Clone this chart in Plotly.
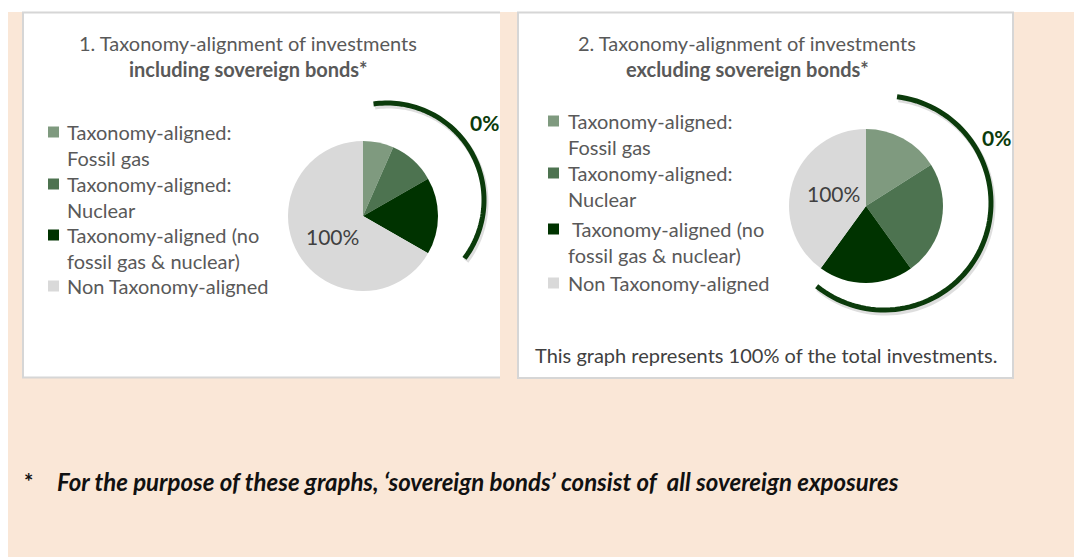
import math
import plotly.graph_objects as go

# Canvas size in pixels
W, H = 1074, 557

# ---- data ----
categories = [
    "Taxonomy-aligned: Fossil gas",
    "Taxonomy-aligned: Nuclear",
    "Taxonomy-aligned (no fossil gas & nuclear)",
    "Non Taxonomy-aligned",
]
legend_lines = [
    ["Taxonomy-aligned:", "Fossil gas"],
    ["Taxonomy-aligned:", "Nuclear"],
    ["Taxonomy-aligned (no", "fossil gas & nuclear)"],
    ["Non Taxonomy-aligned"],
]
slice_colors = ["#7F9A7F", "#4D7350", "#003300", "#D9D9D9"]
incl_sovereign = [6.6, 10.1, 16.6, 66.7]
excl_sovereign = [16.0, 24.1, 19.9, 40.0]
aligned_label = "0%"
non_aligned_label = "100%"
titles = [
    ("1. Taxonomy-alignment of investments", "including sovereign bonds*"),
    ("2. Taxonomy-alignment of investments", "excluding sovereign bonds*"),
]
panel2_note = "This graph represents 100% of the total investments."
footnote = "For the purpose of these graphs, \u2018sovereign bonds\u2019 consist of  all sovereign exposures"

FONT = "Lato"
TXT = "#595959"
ARC = "#0B3B0B"
PEACH = "#FAE7D7"


def px(x):
    return x / W


def py(y):
    return 1 - y / H


fig = go.Figure()
shapes = []
annotations = []

# background strips and panels
shapes.append(dict(type="rect", xref="paper", yref="paper", x0=0, x1=1, y0=py(12), y1=1,
                   fillcolor="white", line_width=0, layer="below"))
shapes.append(dict(type="rect", xref="paper", yref="paper", x0=0, x1=px(8), y0=0, y1=1,
                   fillcolor="white", line_width=0, layer="below"))
# panel 1 (open on the right side)
shapes.append(dict(type="rect", xref="paper", yref="paper", x0=px(22), x1=px(500), y0=py(378), y1=py(12),
                   fillcolor="white", line_width=0, layer="below"))
for (x0, y0, x1, y1) in [(23, 12, 23, 378), (22, 12.5, 500, 12.5), (22, 377.5, 500, 377.5)]:
    shapes.append(dict(type="line", xref="paper", yref="paper", x0=px(x0), y0=py(y0), x1=px(x1), y1=py(y1),
                       line=dict(color="#D6D6D6", width=2), layer="below"))
# panel 2
shapes.append(dict(type="rect", xref="paper", yref="paper", x0=px(518), x1=px(1013), y0=py(378), y1=py(12.5),
                   fillcolor="white", line=dict(color="#D6D6D6", width=2), layer="below"))

# pies
pie_geo = [((363, 216), 75, incl_sovereign), ((866, 206), 77, excl_sovereign)]
for (cx, cy), r, vals in pie_geo:
    fig.add_trace(go.Pie(
        labels=categories, values=vals, sort=False, direction="clockwise", rotation=0,
        marker=dict(colors=slice_colors, line=dict(width=0)),
        textinfo="none", hoverinfo="label+percent", showlegend=False,
        domain=dict(x=[px(cx - r), px(cx + r)], y=[py(cy + r), py(cy - r)]),
    ))


def arc_path(cx, cy, R, a0, a1, dx=0.0, dy=0.0, n=80):
    pts = []
    for i in range(n + 1):
        a = math.radians(a0 + (a1 - a0) * i / n)
        x = cx + R * math.sin(a) + dx
        y = cy - R * math.cos(a) + dy
        pts.append(f"{px(x):.5f},{py(y):.5f}")
    return "M" + " L".join(pts)


arcs = [((387, 200), 97, -8, 127), ((884, 203), 107, 7, 219)]
for (cx, cy), R, a0, a1 in arcs:
    shapes.append(dict(type="path", xref="paper", yref="paper", path=arc_path(cx, cy, R, a0, a1, 1.5, 2.5),
                       line=dict(color="rgba(0,0,0,0.13)", width=6)))
    shapes.append(dict(type="path", xref="paper", yref="paper", path=arc_path(cx, cy, R, a0, a1),
                       line=dict(color=ARC, width=5)))


def text(x, y, s, size=20, color=TXT, anchor="left", bold=False, italic=False):
    if bold:
        s = f"<b>{s}</b>"
    if italic:
        s = f"<i>{s}</i>"
    annotations.append(dict(x=px(x), y=py(y), xref="paper", yref="paper", text=s, showarrow=False,
                            xanchor=anchor, yanchor="middle",
                            font=dict(family=FONT, size=size, color=color)))


# titles
for cxt, (l1, l2) in zip([248, 747], titles):
    text(cxt, 43, l1, anchor="center")
    text(cxt, 69, l2, anchor="center", bold=True)

# legends
legend_geo = [
    (48, 65, [132, 184, 235, 286], 26),
    (548, 566, [121, 173, 229, 283], 26),
]
for li, (mx, tx, rows, lh) in enumerate(legend_geo):
    for i, (lines, col, y0) in enumerate(zip(legend_lines, slice_colors, rows)):
        shapes.append(dict(type="rect", xref="paper", yref="paper", x0=px(mx), x1=px(mx + 11),
                           y0=py(y0 + 5.5), y1=py(y0 - 5.5), fillcolor=col, line_width=0))
        for j, ln in enumerate(lines):
            xoff = 4 if (li == 1 and i == 2 and j == 0) else 0
            text(tx + xoff, y0 + j * lh, ln)

# value labels
text(332, 236, non_aligned_label, size=21, color="#404040", anchor="center")
text(833, 193, non_aligned_label, size=21, color="#404040", anchor="center")
text(484, 123, aligned_label, size=21, color=ARC, anchor="center", bold=True)
text(996, 137, aligned_label, size=21, color=ARC, anchor="center", bold=True)

# notes
text(766, 355, panel2_note, color="#404040", anchor="center")
text(28, 481, "*", size=22, color="#111111", anchor="center", bold=True)
text(55, 481, footnote, size=24, color="#111111", bold=True, italic=True)

fig.update_layout(
    width=W, height=H, margin=dict(l=0, r=0, t=0, b=0),
    paper_bgcolor=PEACH, plot_bgcolor=PEACH,
    xaxis=dict(visible=False), yaxis=dict(visible=False),
    shapes=shapes, annotations=annotations,
)
fig.write_html("out.html")
